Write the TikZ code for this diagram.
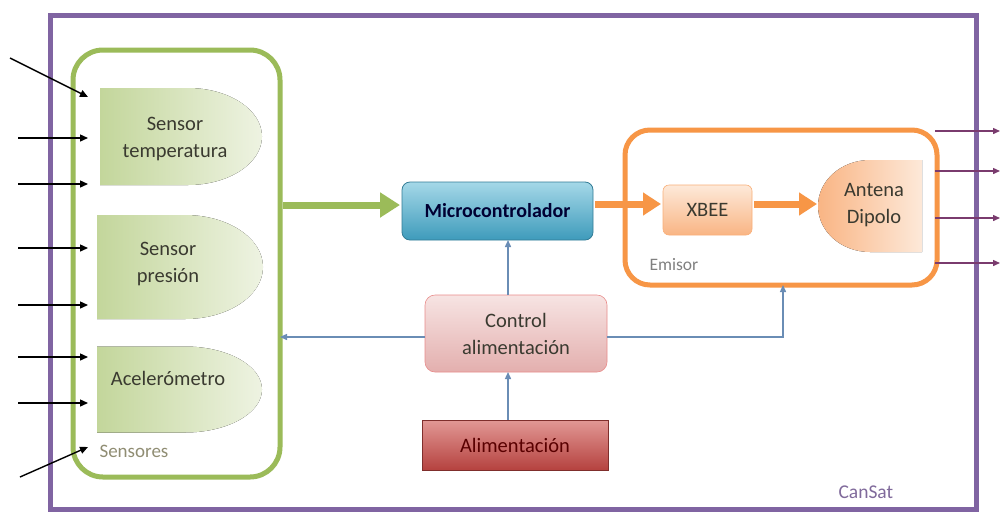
\documentclass[tikz,border=0pt]{standalone}
\usepackage{fontspec}
\setmainfont{Carlito}
\usetikzlibrary{arrows.meta}
\definecolor{frame}{HTML}{8064A2}
\definecolor{sgreen}{HTML}{9BBB59}
\definecolor{sgreenD}{HTML}{C3D69B}
\definecolor{sgreenL}{HTML}{EEF3E2}
\definecolor{orng}{HTML}{F79646}
\definecolor{orngD}{HTML}{F9B584}
\definecolor{orngL}{HTML}{FDE9D9}
\definecolor{bluT}{HTML}{A5D8E8}
\definecolor{bluB}{HTML}{3E9BBB}
\definecolor{pinkT}{HTML}{F7E4E3}
\definecolor{pinkB}{HTML}{E3AFAE}
\definecolor{redT}{HTML}{E29895}
\definecolor{redB}{HTML}{B5423F}
\definecolor{conn}{HTML}{6A8DB5}
\definecolor{outc}{HTML}{7A3B6E}
\definecolor{txt}{HTML}{3A3A30}
\begin{document}
\begin{tikzpicture}[x=1pt,y=-1pt,
  lbl/.style={font=\fontsize{20.5}{27}\selectfont, text=txt, align=center},
  ghost/.style={inner sep=0pt, outer sep=0pt},
  inarrow/.style={line width=1.4pt, black, -{Triangle[length=8pt,width=7pt]}},
  outarrow/.style={line width=1.4pt, outc, -{Triangle[length=7pt,width=6pt]}},
  thinconn/.style={line width=1.4pt, conn, -{Triangle[length=7pt,width=6pt]}},
  fatgreen/.style={line width=7pt, sgreen, -{Triangle[length=20pt,width=24pt]}},
  fatorange/.style={line width=7pt, orng, -{Triangle[length=18pt,width=22pt]}},
  grouplbl/.style={anchor=west}
]
\useasboundingbox (0,0) rectangle (1000,512);
\fill[white] (0,0) rectangle (1000,512);

% outer frame
\node[ghost, draw=frame, line width=5pt, minimum width=926pt, minimum height=494pt] (cansat) at (513,262) {};
\node[grouplbl, font=\fontsize{19.5}{22}\selectfont, text=frame!80!gray] (cansatlbl) at (835,492) {CanSat};

% sensor group
\node[ghost, draw=sgreen, line width=5pt, rounded corners=30pt, minimum width=207pt, minimum height=427pt] (sens) at (176.5,263.5) {};
\node[grouplbl, font=\fontsize{19}{22}\selectfont, text=gray!80!olive] (senslbl) at (96,451) {Sensores};

% sensor D-shapes
\node[ghost, minimum width=162pt, minimum height=97pt] (temp) at (181,136.5) {};
\fill[left color=sgreenD, right color=sgreenL] (temp.north west) -- ++(88,0) arc[start angle=-90, end angle=90, x radius=74, y radius=48.5] -- (temp.south west) -- cycle;
\node[lbl] at (175,139) {Sensor\\temperatura};

\node[ghost, minimum width=166pt, minimum height=104pt] (pres) at (180,267) {};
\fill[left color=sgreenD, right color=sgreenL] (pres.north west) -- ++(88,0) arc[start angle=-90, end angle=90, x radius=78, y radius=52] -- (pres.south west) -- cycle;
\node[lbl] at (168,264) {Sensor\\presión};

\node[ghost, minimum width=165pt, minimum height=86pt] (acel) at (179.5,389.5) {};
\fill[left color=sgreenD, right color=sgreenL] (acel.north west) -- ++(88,0) arc[start angle=-90, end angle=90, x radius=77, y radius=43] -- (acel.south west) -- cycle;
\node[lbl] at (168,378) {Acelerómetro};

% input arrows
\foreach \i/\sx/\sy/\ty in {1/10/58/97, 2/18/138/138, 3/18/184/184, 4/18/248/248, 5/18/305/305, 6/18/357/357, 7/18/403/403, 8/20/477/447}{
  \coordinate (in\i s) at (\sx,\sy);
  \coordinate (in\i t) at (88,\ty);
  \draw[inarrow] (in\i s) -- (in\i t);
}

% microcontroller
\node[ghost, draw=bluB!80!black, line width=0.8pt, rounded corners=8pt, top color=bluT, bottom color=bluB, minimum width=191pt, minimum height=58pt, font=\fontsize{20}{24}\selectfont\bfseries, text=black!80!blue] (micro) at (497.5,211) {Microcontrolador};

% emisor group
\node[ghost, draw=orng, line width=5pt, rounded corners=25pt, minimum width=312pt, minimum height=155pt] (emisor) at (781,207.5) {};
\node[grouplbl, font=\fontsize{17.5}{20}\selectfont, text=gray] (emisorlbl) at (646,265) {Emisor};

\node[ghost, draw=orngD!80!orng, line width=0.6pt, rounded corners=6pt, top color=orngL, bottom color=orngD, minimum width=89pt, minimum height=50pt, font=\fontsize{20.5}{24}\selectfont, text=txt] (xbee) at (707.5,210) {XBEE};

\node[ghost, minimum width=104pt, minimum height=92pt] (ant) at (870,206) {};
\fill[left color=orngD, right color=orngL] (ant.north east) -- (ant.south east) -- ++(-52,0) arc[start angle=90, end angle=270, x radius=52, y radius=46] -- cycle;
\node[lbl] at (874,205) {Antena\\Dipolo};

% fat arrows
\coordinate (g1) at (283,205);
\coordinate (g2) at (400,205);
\draw[fatgreen] (g1) -- (g2);
\coordinate (o1) at (595,204);
\coordinate (o2) at (661,204);
\draw[fatorange] (o1) -- (o2);
\coordinate (o3) at (754,204);
\coordinate (o4) at (817,204);
\draw[fatorange] (o3) -- (o4);

% output arrows
\foreach \i/\y in {1/131, 2/171, 3/218, 4/263}{
  \coordinate (out\i s) at (935,\y);
  \coordinate (out\i t) at (1000,\y);
  \draw[outarrow] (out\i s) -- (out\i t);
}

% power
\node[ghost, draw=pinkB!80!red, line width=0.6pt, rounded corners=10pt, top color=pinkT, bottom color=pinkB, minimum width=182pt, minimum height=77pt, font=\fontsize{20.5}{27}\selectfont, text=txt, align=center] (ctrl) at (516,333.5) {Control\\alimentación};
\node[ghost, draw=redB!70!black, line width=0.6pt, top color=redT, bottom color=redB, minimum width=186pt, minimum height=50pt, font=\fontsize{20.5}{24}\selectfont, text=red!35!black] (alim) at (515,445) {Alimentación};

% thin connectors
\coordinate (vx) at (508,0);
\coordinate (ex) at (783,0);
\coordinate (hy) at (0,337);
\draw[thinconn] (ctrl.north -| vx) -- (micro.south -| vx);
\draw[thinconn] (alim.north -| vx) -- (ctrl.south -| vx);
\draw[thinconn] (ctrl.west |- hy) -- (sens.east |- hy);
\draw[thinconn] (ctrl.east |- hy) -| (emisor.south -| ex);
\end{tikzpicture}
\end{document}
